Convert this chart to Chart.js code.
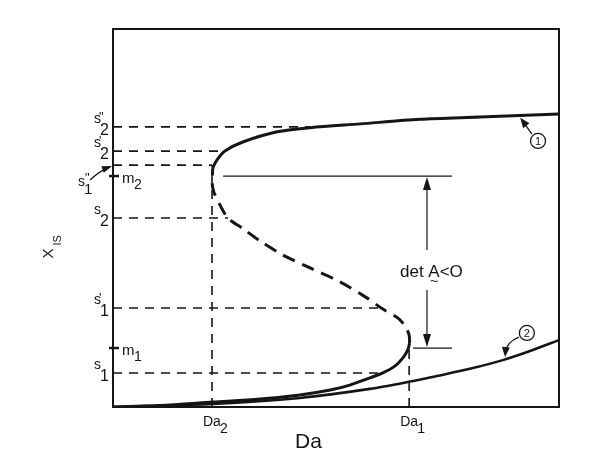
<!DOCTYPE html>
<html>
<head>
<meta charset="utf-8">
<script src="https://cdn.jsdelivr.net/npm/chart.js@4"></script>
<style>
  html, body { margin: 0; padding: 0; background: #fff; }
  #wrap { width: 600px; height: 466px; }
</style>
</head>
<body>
<div id="wrap"><canvas id="chart" width="600" height="466"></canvas></div>
<script>
// curve 1 (S-shaped), split into its three branches
const lowerX = [0, 0.105, 0.224, 0.330, 0.419, 0.487, 0.531, 0.576, 0.605, 0.632, 0.650, 0.661, 0.665];
const lowerY = [0, 0.004, 0.013, 0.021, 0.032, 0.045, 0.058, 0.077, 0.090, 0.108, 0.130, 0.151, 0.169];
const middleX = [0.665, 0.664, 0.655, 0.639, 0.605, 0.570, 0.509, 0.442, 0.381, 0.330, 0.296, 0.258, 0.240, 0.226, 0.222, 0.223];
const middleY = [0.169, 0.190, 0.214, 0.235, 0.259, 0.288, 0.331, 0.368, 0.402, 0.439, 0.468, 0.500, 0.534, 0.569, 0.595, 0.614];
const upperX = [0.223, 0.224, 0.233, 0.251, 0.291, 0.368, 0.442, 0.554, 0.688, 0.823, 1.0];
const upperY = [0.614, 0.632, 0.653, 0.677, 0.701, 0.728, 0.739, 0.749, 0.761, 0.767, 0.775];

// curve 2
const curve2X = [0, 0.224, 0.419, 0.576, 0.673, 0.726, 0.800, 0.874, 0.935, 1.0];
const curve2Y = [0, 0.008, 0.024, 0.048, 0.069, 0.082, 0.101, 0.124, 0.148, 0.177];

// steady states marked on the X_IS axis
const levelValues = [0.741, 0.677, 0.640, 0.500, 0.262, 0.090];
const levelSub = ['2', '2', '1', '2', '1', '1'];
const levelPrime = ['"', "'", '"', '', "'", ''];
const levelEnds = [0.442, 0.251, 0.222, 0.258, 0.605, 0.605];

// m1, m2 (turning points)
const markValues = [0.611, 0.156];
const markSub = ['2', '1'];
const markFrom = [0.247, 0.673];
const markTo = [0.760, 0.760];

// Da1, Da2
const daValues = [0.222, 0.664];
const daSub = ['2', '1'];
const daTop = [0.640, 0.169];

const INK = '#151515';
const FONT = '"Liberation Sans", Arial, sans-serif';

function pts(xs, ys) {
    return xs.map((x, i) => ({ x: x, y: ys[i] }));
}

const datasets = [];
// dashed guides from the axis to the curve
levelValues.forEach((v, i) => {
    datasets.push({ data: pts([0, levelEnds[i]], [v, v]), borderColor: INK, borderWidth: 1.6, borderDash: [9, 7], tension: 0 });
});
daValues.forEach((v, i) => {
    datasets.push({ data: pts([v, v], [0, daTop[i]]), borderColor: INK, borderWidth: 1.6, borderDash: [9, 7], tension: 0 });
});
markValues.forEach((v, i) => {
    datasets.push({ data: pts([markFrom[i], markTo[i]], [v, v]), borderColor: INK, borderWidth: 1.2, tension: 0 });
});
datasets.push({ data: pts(lowerX, lowerY), borderColor: INK, borderWidth: 3, tension: 0.3 });
datasets.push({ data: pts(middleX, middleY), borderColor: INK, borderWidth: 3, borderDash: [13, 8], tension: 0.3 });
datasets.push({ data: pts(upperX, upperY), borderColor: INK, borderWidth: 3, tension: 0.3 });
datasets.push({ data: pts(curve2X, curve2Y), borderColor: INK, borderWidth: 2.6, tension: 0.3 });

function arrowHead(ctx, x1, y1, x2, y2, len, half) {
    const a = Math.atan2(y2 - y1, x2 - x1);
    ctx.beginPath();
    ctx.moveTo(x2, y2);
    ctx.lineTo(x2 - len * Math.cos(a) + half * Math.sin(a), y2 - len * Math.sin(a) - half * Math.cos(a));
    ctx.lineTo(x2 - len * Math.cos(a) - half * Math.sin(a), y2 - len * Math.sin(a) + half * Math.cos(a));
    ctx.closePath();
    ctx.fill();
}

function txt(ctx, s, x, y, size) {
    ctx.font = size + 'px ' + FONT;
    ctx.fillText(s, x, y);
}

const labelsPlugin = {
    id: 'labels',
    afterDraw(chart) {
        const ctx = chart.ctx;
        const xs = chart.scales.x, ys = chart.scales.y;
        const L = chart.chartArea.left, B = chart.chartArea.bottom;
        const px = (x, y) => [xs.getPixelForValue(x), ys.getPixelForValue(y)];
        ctx.save();
        ctx.fillStyle = INK;
        ctx.strokeStyle = INK;
        ctx.textBaseline = 'alphabetic';
        ctx.textAlign = 'left';

        // s labels on the y axis
        levelValues.forEach((v, i) => {
            const ty = ys.getPixelForValue(v);
            if (i === 2) {
                txt(ctx, 's', L - 35, ty + 21, 14);
                txt(ctx, levelSub[i], L - 29, ty + 29, 15);
                txt(ctx, levelPrime[i], L - 28, ty + 17, 13);
                ctx.lineWidth = 1.3;
                ctx.beginPath();
                ctx.moveTo(L - 23, ty + 15);
                ctx.quadraticCurveTo(L - 14, ty + 6, L - 3, ty + 2);
                ctx.stroke();
                arrowHead(ctx, L - 12, ty + 5, L - 1, ty + 1, 10, 3.5);
                return;
            }
            txt(ctx, 's', L - 19, ty - 4, 14);
            txt(ctx, levelSub[i], L - 13, ty + 8, 16);
            if (levelPrime[i]) txt(ctx, levelPrime[i], L - 14, ty - 6, 13);
        });

        // m labels inside the frame, with small ticks
        markValues.forEach((v, i) => {
            const ty = ys.getPixelForValue(v);
            ctx.lineWidth = 2.5;
            ctx.beginPath();
            ctx.moveTo(L - 4, ty);
            ctx.lineTo(L + 6, ty);
            ctx.stroke();
            txt(ctx, 'm', L + 9, ty + 7, 15);
            txt(ctx, markSub[i], L + 21, ty + 13, 14);
        });

        // Da ticks
        daValues.forEach((v, i) => {
            const tx = xs.getPixelForValue(v);
            txt(ctx, 'Da', tx - 9, B + 19, 14);
            txt(ctx, daSub[i], tx + 8, B + 26, 14);
        });

        // axis titles
        txt(ctx, 'Da', L + 182, B + 41, 21);
        ctx.save();
        ctx.translate(L - 60, ys.getPixelForValue(0.393));
        ctx.rotate(-Math.PI / 2);
        txt(ctx, 'X', 0, 0, 15);
        txt(ctx, 'IS', 13, 8, 11);
        ctx.restore();

        // det A < 0 arrow between m2 and m1
        const ax = xs.getPixelForValue(0.704);
        const yTop = ys.getPixelForValue(markValues[0]);
        const yBot = ys.getPixelForValue(markValues[1]);
        ctx.lineWidth = 1.2;
        ctx.beginPath();
        ctx.moveTo(ax, yTop + 8); ctx.lineTo(ax, yTop + 74);
        ctx.moveTo(ax, yBot - 58); ctx.lineTo(ax, yBot - 8);
        ctx.stroke();
        arrowHead(ctx, ax, yTop + 20, ax, yTop + 1, 13, 4);
        arrowHead(ctx, ax, yBot - 20, ax, yBot - 1, 13, 4);
        ctx.font = '17px ' + FONT;
        const tx0 = ax - 27, tyT = yTop + 101;
        ctx.fillText('det A<O', tx0, tyT);
        const wDet = ctx.measureText('det ').width;
        const wA = ctx.measureText('A').width;
        ctx.font = '14px ' + FONT;
        ctx.textAlign = 'center';
        ctx.fillText('~', tx0 + wDet + wA / 2, tyT + 9);

        // circled curve numbers
        ctx.lineWidth = 1.3;
        const c1 = px(0.953, 0.704);
        ctx.beginPath(); ctx.arc(c1[0], c1[1], 7.5, 0, Math.PI * 2); ctx.stroke();
        ctx.font = '11px ' + FONT;
        ctx.textBaseline = 'middle';
        ctx.fillText('1', c1[0], c1[1] + 1);
        const a1s = px(0.939, 0.722), a1e = px(0.913, 0.765);
        ctx.beginPath();
        ctx.moveTo(a1s[0], a1s[1]);
        ctx.quadraticCurveTo(a1s[0] - 4, a1s[1] - 6, a1e[0] + 3, a1e[1] + 4);
        ctx.stroke();
        arrowHead(ctx, a1s[0] - 6, a1s[1] - 9, a1e[0], a1e[1], 10, 4);

        const c2 = px(0.928, 0.196);
        ctx.beginPath(); ctx.arc(c2[0], c2[1], 7.5, 0, Math.PI * 2); ctx.stroke();
        ctx.fillText('2', c2[0], c2[1] + 1);
        const a2s = px(0.910, 0.185), a2c = px(0.882, 0.172), a2e = px(0.879, 0.132);
        ctx.beginPath();
        ctx.moveTo(a2s[0], a2s[1]);
        ctx.quadraticCurveTo(a2c[0], a2c[1], a2e[0], a2e[1] - 4);
        ctx.stroke();
        arrowHead(ctx, a2c[0], a2c[1], a2e[0], a2e[1], 10, 4);
        ctx.restore();
    }
};

const noTicks = { display: false };
const edge = { display: true, color: INK, width: 2 };
const noGrid = { display: true, drawOnChartArea: false, drawTicks: false };

new Chart(document.getElementById('chart').getContext('2d'), {
    type: 'scatter',
    data: { datasets: datasets },
    options: {
        responsive: false,
        animation: false,
        showLine: true,
        layout: { padding: 0 },
        elements: { point: { radius: 0 } },
        plugins: { legend: { display: false }, tooltip: { enabled: false } },
        scales: {
            x: { type: 'linear', position: 'bottom', min: 0, max: 1, ticks: noTicks, grid: noGrid, border: edge,
                 afterFit: s => { s.height = 59; } },
            x2: { type: 'linear', position: 'top', min: 0, max: 1, ticks: noTicks, grid: noGrid, border: edge,
                  afterFit: s => { s.height = 29; } },
            y: { type: 'linear', position: 'left', min: 0, max: 1, ticks: noTicks, grid: noGrid, border: edge,
                 afterFit: s => { s.width = 113; } },
            y2: { type: 'linear', position: 'right', min: 0, max: 1, ticks: noTicks, grid: noGrid, border: edge,
                  afterFit: s => { s.width = 41; } }
        }
    },
    plugins: [labelsPlugin]
});
</script>
</body>
</html>
